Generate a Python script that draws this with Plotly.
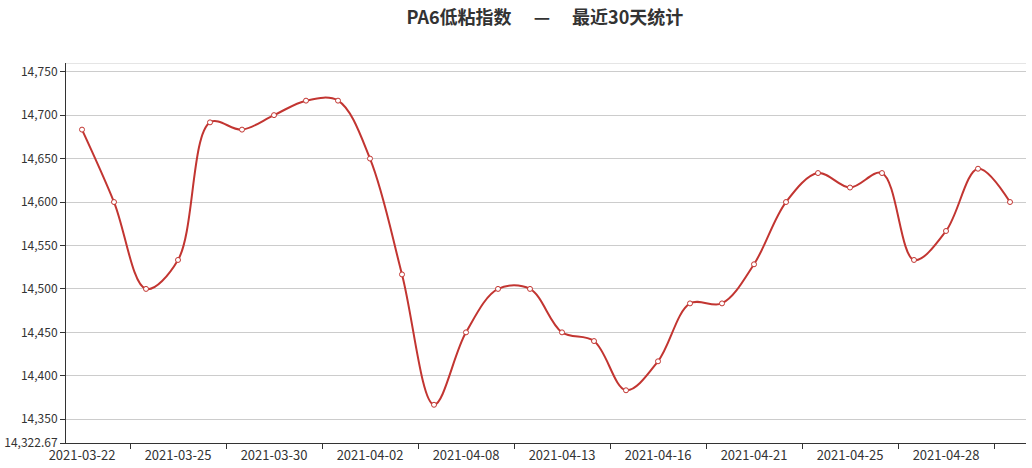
import plotly.graph_objects as go

dates = ["2021-03-22", "2021-03-23", "2021-03-24", "2021-03-25", "2021-03-26",
         "2021-03-29", "2021-03-30", "2021-03-31", "2021-04-01", "2021-04-02",
         "2021-04-06", "2021-04-07", "2021-04-08", "2021-04-09", "2021-04-12",
         "2021-04-13", "2021-04-14", "2021-04-15", "2021-04-16", "2021-04-19",
         "2021-04-20", "2021-04-21", "2021-04-22", "2021-04-23", "2021-04-25",
         "2021-04-26", "2021-04-27", "2021-04-28", "2021-04-29", "2021-04-30"]
values = [14683.33, 14600, 14500, 14533.33, 14691.67, 14683.33, 14700, 14716.67,
          14716.67, 14650, 14516.67, 14366.67, 14450, 14500, 14500, 14450, 14440,
          14383.33, 14416.67, 14483.33, 14483.33, 14528.33, 14600, 14633.33,
          14616.67, 14633.33, 14533.33, 14566.67, 14638.33, 14600]

y_min = 14322.67
y_max = 14760
y_ticks = [14322.67, 14350, 14400, 14450, 14500, 14550, 14600, 14650, 14700, 14750]
y_ticktext = ["14,322.67", "14,350", "14,400", "14,450", "14,500", "14,550",
              "14,600", "14,650", "14,700", "14,750"]
label_idx = list(range(0, 30, 3))
tick_pos = [i + 1.5 for i in range(0, 30, 3)]

RED = "#c23531"
FONT = "Noto Sans CJK SC, Noto Sans, sans-serif"

fig = go.Figure()
fig.add_trace(go.Scatter(
    x=dates, y=values, mode="lines+markers",
    line=dict(color=RED, width=2, shape="spline", smoothing=1.0),
    marker=dict(symbol="circle", size=5, color="white",
                line=dict(color=RED, width=1)),
    showlegend=False, hoverinfo="x+y"))
# invisible trace for secondary axis carrying boundary tick marks
fig.add_trace(go.Scatter(x=[-0.5, 29.5], y=[y_min, y_min], xaxis="x2",
                         mode="lines", line=dict(width=0), showlegend=False,
                         hoverinfo="skip"))

fig.update_layout(
    width=1032, height=468,
    margin=dict(l=66, r=6, t=63, b=25, autoexpand=False),
    paper_bgcolor="white", plot_bgcolor="white",
    font=dict(family=FONT, size=12, color="#333"),
    title=dict(text="<b>PA6低粘指数　 —　 最近30天统计</b>",
               x=0.528, xanchor="center", y=0.963, yanchor="middle",
               font=dict(family=FONT, size=18, color="#333"), automargin=False),
    xaxis=dict(type="category", range=[-0.5, 29.5],
               tickvals=[dates[i] for i in label_idx],
               ticktext=[dates[i] for i in label_idx],
               ticks="", showgrid=False, showline=True, linecolor="#333",
               linewidth=1, tickfont=dict(size=13, color="#333"),
               zeroline=False, automargin=False),
    xaxis2=dict(overlaying="x", anchor="y", side="bottom", range=[-0.5, 29.5],
                tickvals=tick_pos, showticklabels=False, ticks="outside",
                ticklen=5, tickcolor="#333", showgrid=False, showline=False,
                zeroline=False, automargin=False),
    yaxis=dict(range=[y_min, y_max], tickvals=y_ticks, ticktext=y_ticktext,
               ticks="outside", ticklen=5, tickcolor="#333",
               showgrid=True, gridcolor="#cccccc", gridwidth=1,
               showline=True, linecolor="#333", linewidth=1,
               zeroline=False, tickfont=dict(size=12, color="#333"),
               automargin=False),
    shapes=[dict(type="line", xref="paper", yref="y", x0=0, x1=1,
                 y0=y_max, y1=y_max, line=dict(color="#cccccc", width=1))],
)

fig.write_html("out.html",
               config={"displayModeBar": False},
               post_script="document.body.style.margin='0px';"
                           "document.body.style.overflow='hidden';")
